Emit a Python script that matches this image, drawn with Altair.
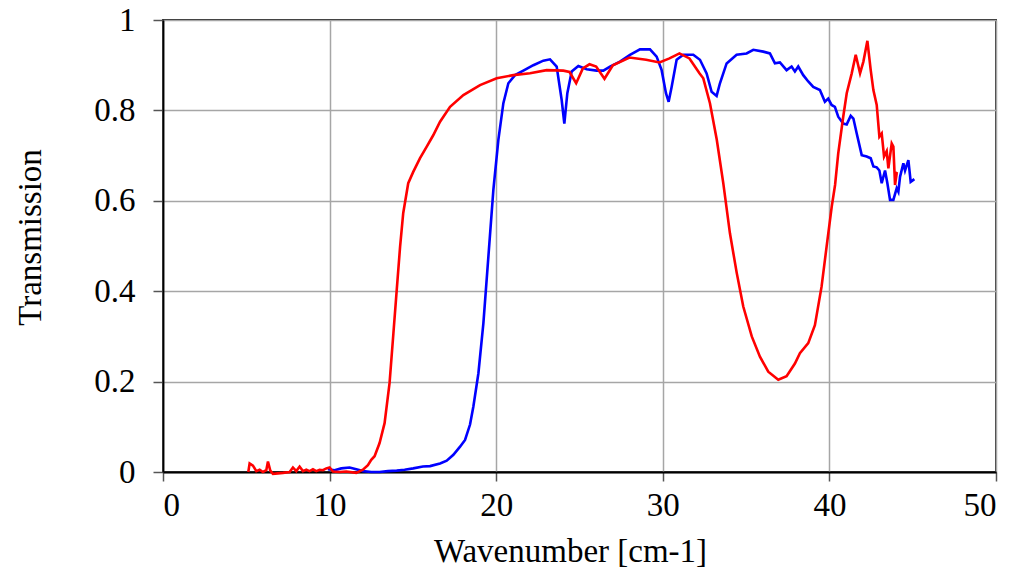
import altair as alt
import pandas as pd

red_x = [5.12,5.2,5.4,5.6,5.8,6.0,6.2,6.3,6.44,6.6,6.9,7.2,7.6,7.8,8.0,8.2,8.4,8.6,8.8,9.0,
         9.2,9.4,9.6,9.8,10.0,10.2,10.6,11.0,11.6,12.0,12.3,12.5,12.7,13.0,13.3,13.6,13.83,14.03,14.23,14.42,
         14.72,15.02,15.42,15.83,16.22,16.63,17.23,18.03,19.03,20.03,21.03,22.03,23.03,24.03,24.4,24.8,25.2,25.6,26.0,26.5,
         27.0,28.0,29.0,29.8,30.4,31.0,31.6,32.2,32.43,32.83,33.24,33.63,34.03,34.44,34.83,35.34,35.83,36.33,36.93,37.43,
         37.93,38.23,38.73,39.13,39.53,39.83,40.14,40.34,40.53,40.83,41.04,41.34,41.58,41.84,42.04,42.28,42.48,42.64,42.84,43.0,
         43.14,43.28,43.44,43.54,43.74,43.84,43.94,44.04,44.1]
red_y = [0.0,0.019,0.014,0.002,0.005,0.0,0.004,0.023,0.003,-0.004,
         -0.003,-0.002,0.0,0.01,0.002,0.012,0.002,0.005,0.002,0.006,
         0.002,0.005,0.004,0.008,0.01,0.001,0.0,0.001,-0.002,0.005,
         0.015,0.027,0.035,0.064,0.108,0.197,0.307,0.403,0.498,0.573,
         0.639,0.664,0.694,0.72,0.745,0.775,0.808,0.834,0.856,0.871,
         0.878,0.882,0.889,0.888,0.885,0.86,0.893,0.902,0.897,0.87,
         0.9,0.917,0.912,0.906,0.915,0.926,0.915,0.882,0.871,0.816,
         0.735,0.639,0.528,0.44,0.366,0.3,0.255,0.222,0.204,0.212,
         0.24,0.263,0.285,0.325,0.41,0.498,0.587,0.635,0.705,0.786,
         0.838,0.882,0.923,0.882,0.908,0.954,0.889,0.845,0.812,0.742,
         0.749,0.698,0.71,0.672,0.727,0.72,0.635,0.661,0.66]

blue_x = [9.9,10.3,10.7,11.2,11.6,12.0,12.5,13.0,13.5,14.03,
          14.5,15.02,15.6,16.03,16.63,17.03,17.43,17.83,18.13,18.43,
          18.63,18.93,19.23,19.53,19.83,20.13,20.43,20.73,21.13,21.63,
          22.23,22.83,23.23,23.63,23.93,24.09,24.27,24.53,24.93,25.43,
          26.03,26.43,26.83,27.43,28.03,28.63,29.23,29.63,29.93,30.19,
          30.35,30.53,30.83,31.23,31.83,32.23,32.63,32.93,33.23,33.43,
          33.83,34.43,35.03,35.43,36.03,36.43,36.73,37.03,37.43,37.73,
          37.93,38.13,38.43,38.73,39.03,39.43,39.73,39.93,40.13,40.33,
          40.53,40.83,41.04,41.28,41.44,41.64,41.94,42.24,42.48,42.64,
          42.84,43.0,43.14,43.34,43.48,43.64,43.84,44.04,44.14,44.24,
          44.44,44.54,44.74,44.88,45.1]
blue_y = [0.006,0.004,0.008,0.01,0.006,0.002,0.0,0.0,0.002,0.003,
          0.005,0.008,0.012,0.013,0.019,0.025,0.038,0.056,0.071,0.105,
          0.145,0.218,0.329,0.476,0.624,0.735,0.816,0.86,0.878,0.888,
          0.9,0.91,0.913,0.897,0.823,0.771,0.838,0.886,0.898,0.891,
          0.888,0.888,0.897,0.908,0.923,0.935,0.935,0.919,0.889,0.838,
          0.819,0.852,0.912,0.923,0.923,0.912,0.882,0.841,0.832,0.86,
          0.904,0.923,0.926,0.934,0.93,0.926,0.904,0.906,0.889,0.897,
          0.886,0.897,0.878,0.864,0.852,0.845,0.819,0.826,0.812,0.808,
          0.786,0.771,0.769,0.788,0.782,0.749,0.701,0.698,0.694,0.676,
          0.674,0.667,0.639,0.667,0.639,0.602,0.602,0.628,0.62,0.653,
          0.683,0.667,0.69,0.642,0.648]

x_ticks = [0, 10, 20, 30, 40, 50]
y_ticks = [0, 0.2, 0.4, 0.6, 0.8, 1]

red_df = pd.DataFrame({"x": red_x, "y": red_y, "i": range(len(red_x))})
blue_df = pd.DataFrame({"x": blue_x, "y": blue_y, "i": range(len(blue_x))})

FONT = "Liberation Serif"
FS = 33

xscale = alt.Scale(domain=[0, 50], nice=False, zero=False)
yscale = alt.Scale(domain=[0, 1], nice=False, zero=False)

xaxis = alt.Axis(values=x_ticks, title="Wavenumber [cm-1]", format="d",
                 grid=True, gridColor="#a6a6a6", gridWidth=1.5,
                 domainColor="#000000", domainWidth=1.8,
                 tickColor="#555555", tickSize=9, tickWidth=1.5,
                 labelFont=FONT, labelFontSize=FS, labelColor="#000000", labelPadding=8,
                 titleFont=FONT, titleFontSize=FS, titleFontWeight="normal", titleColor="#000000",
                 titleX=407, titleY=79, titleBaseline="middle")
yaxis = alt.Axis(values=y_ticks, title="Transmission", format="~g",
                 grid=True, gridColor="#a6a6a6", gridWidth=1.5,
                 domainColor="#000000", domainWidth=1.8,
                 tickColor="#555555", tickSize=10, tickWidth=1.5,
                 labelFont=FONT, labelFontSize=FS, labelColor="#000000", labelPadding=18,
                 titleFont=FONT, titleFontSize=FS, titleFontWeight="normal", titleColor="#000000",
                 titleAngle=270, titleX=-133, titleY=217, titleBaseline="middle", titleAlign="center")

blue = alt.Chart(blue_df).mark_line(color="#0000ff", strokeWidth=2.6).encode(
    x=alt.X("x:Q", scale=xscale, axis=xaxis),
    y=alt.Y("y:Q", scale=yscale, axis=yaxis),
    order="i:Q",
)
red = alt.Chart(red_df).mark_line(color="#ff0000", strokeWidth=2.6).encode(
    x=alt.X("x:Q", scale=xscale),
    y=alt.Y("y:Q", scale=yscale),
    order="i:Q",
)

chart = alt.layer(blue, red).properties(
    width=833, height=452,
    autosize=alt.AutoSizeParams(type="none"),
    padding={"left": 163, "top": 20, "right": 21, "bottom": 100},
    background="#ffffff",
).configure_view(stroke="#222222", strokeWidth=1.8)

chart.save("out.html", embed_options={"renderer": "svg", "actions": False})
